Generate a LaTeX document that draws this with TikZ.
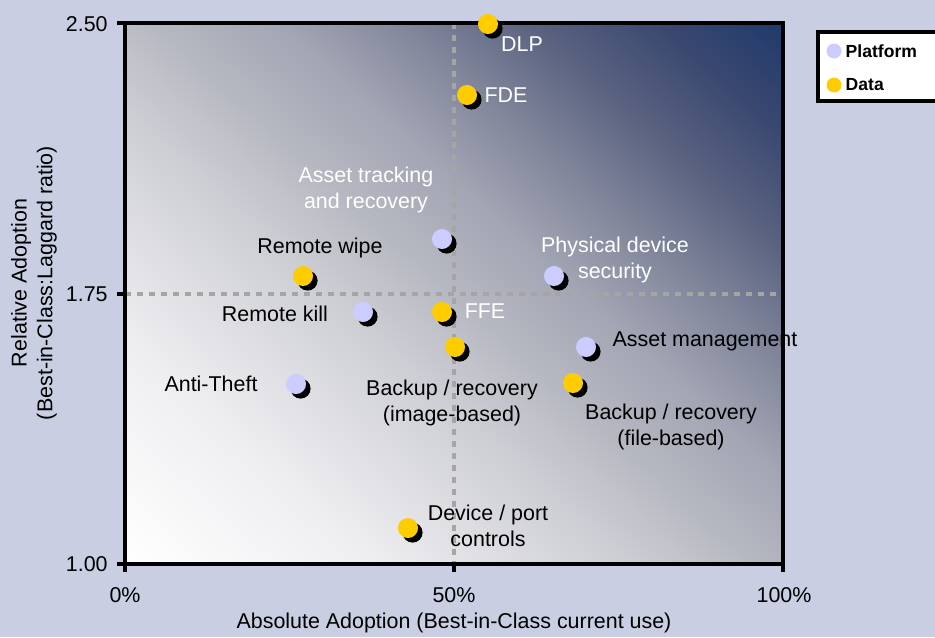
\documentclass[tikz,border=0pt]{standalone}
\usepackage{fontspec}
\setmainfont{Liberation Sans}
\usetikzlibrary{positioning,shadows}
\definecolor{chartbg}{RGB}{201,206,226}
\definecolor{platformblue}{RGB}{204,204,255}
\definecolor{datayellow}{RGB}{255,204,0}
\definecolor{guidegray}{RGB}{165,165,165}
\definecolor{fadeA}{RGB}{238,238,241}
\definecolor{fadeB}{RGB}{205,206,212}
\definecolor{fadeC}{RGB}{182,184,193}
\definecolor{fadeD}{RGB}{162,165,179}
\definecolor{fadeE}{RGB}{128,133,154}
\definecolor{fadeF}{RGB}{90,98,128}
\definecolor{fadeG}{RGB}{58,72,112}
\definecolor{fadeH}{RGB}{31,58,107}
\pgfdeclarehorizontalshading{plotfade}{100bp}{color(0bp)=(white); color(14.6bp)=(white);
  color(28.8bp)=(fadeA); color(42.9bp)=(fadeB); color(50bp)=(fadeC); color(57.1bp)=(fadeD);
  color(64.2bp)=(fadeE); color(71.2bp)=(fadeF); color(78.3bp)=(fadeG); color(85.4bp)=(fadeH);
  color(100bp)=(fadeH)}
\tikzset{
  dot/.style={circle, inner sep=0pt, minimum size=11.4pt,
    drop shadow={shadow xshift=2.6pt, shadow yshift=-2.6pt, fill=black, opacity=1}},
  platformdot/.style={dot, fill=platformblue},
  datadot/.style={dot, fill=datayellow},
  keydot/.style={circle, inner sep=0pt, minimum size=8.5pt},
  darklabel/.style={text=black, align=center, inner sep=0pt},
  lightlabel/.style={text=white, align=center, inner sep=0pt},
  guide/.style={draw=guidegray, line width=1.8pt, dash pattern=on 3.4pt off 3.4pt},
  plotframe/.style={draw=black, line width=2.2pt}
}

\begin{document}
\begin{tikzpicture}[x=0.02cm, y=-0.02cm, font=\fontsize{12.2}{14.7}\selectfont]
    \useasboundingbox (0,0) rectangle (935,637);
    \fill[chartbg] (0,0) rectangle (935,637);

    % plot area
    \shade[shading=plotfade, shading angle=48] (125,23) rectangle (783,564);
    \draw[guide] (454,23) -- (454,564);
    \draw[guide] (125,294) -- (783,294);
    \draw[plotframe] (125,23) -- (783,23) -- (783,564) -- (125,564) -- cycle;
    \foreach \ty in {23,294,564} \draw[plotframe] (117,\ty) -- (125,\ty);
    \foreach \tx in {125,454,783} \draw[plotframe] (\tx,564) -- (\tx,572);

    % axes
    \node[anchor=east, inner sep=0pt] (ytop) at (108,24) {2.50};
    \node[anchor=east, inner sep=0pt] (ymid) at (108,294) {1.75};
    \node[anchor=east, inner sep=0pt] (ybot) at (108,564) {1.00};
    \node[inner sep=0pt] (xleft) at (125,595) {0\%};
    \node[inner sep=0pt] (xmid) at (454,595) {50\%};
    \node[inner sep=0pt] (xright) at (784,595) {100\%};
    \node[inner sep=0pt] (xtitle) at (454,623) {Absolute Adoption (Best-in-Class current use)};
    \node[rotate=90, align=center, inner sep=0pt] (ytitle) at (34,283)
        {Relative Adoption\\(Best-in-Class:Laggard ratio)};

    % points
    \node[datadot] (dlp) at (488,24) {};
    \node[datadot] (fde) at (467,95) {};
    \node[platformdot] (assettrack) at (442,239) {};
    \node[datadot] (remotewipe) at (303,276) {};
    \node[platformdot] (physdev) at (554,276) {};
    \node[platformdot] (remotekill) at (363,312) {};
    \node[datadot] (ffe) at (442,312) {};
    \node[datadot] (backupimg) at (455,347) {};
    \node[platformdot] (assetmgmt) at (586,347) {};
    \node[platformdot] (antitheft) at (296,384) {};
    \node[datadot] (backupfile) at (573,383) {};
    \node[datadot] (deviceport) at (408,528) {};

    % labels
    \node[lightlabel] (dlplabel) at (522,44) {DLP};
    \node[lightlabel] (fdelabel) at (506,95) {FDE};
    \node[lightlabel] (assettracklabel) at (366,190) {Asset tracking\\and recovery};
    \node[darklabel] (remotewipelabel) at (320,248) {Remote wipe};
    \node[lightlabel] (physdevlabel) at (615,260) {Physical device\\security};
    \node[darklabel] (remotekilllabel) at (275,314) {Remote kill};
    \node[lightlabel] (ffelabel) at (485,311) {FFE};
    \node[darklabel] (backupimglabel) at (452,403) {Backup / recovery\\(image-based)};
    \node[darklabel] (assetmgmtlabel) at (705,341) {Asset management};
    \node[darklabel] (antitheftlabel) at (211,384) {Anti-Theft};
    \node[darklabel] (backupfilelabel) at (671,427) {Backup / recovery\\(file-based)};
    \node[darklabel] (deviceportlabel) at (488,526) {Device / port\\controls};

    % legend
    \draw[plotframe, fill=white] (818,32) rectangle (960,101);
    \node[keydot, fill=platformblue] (keyplatform) at (834,51) {};
    \node[keydot, fill=datayellow] (keydata) at (834,85) {};
    \node[right=2pt of keyplatform, inner sep=0pt, font=\bfseries] (keyplatformtext) {Platform};
    \node[right=2pt of keydata, inner sep=0pt, font=\bfseries] (keydatatext) {Data};
\end{tikzpicture}
\end{document}
